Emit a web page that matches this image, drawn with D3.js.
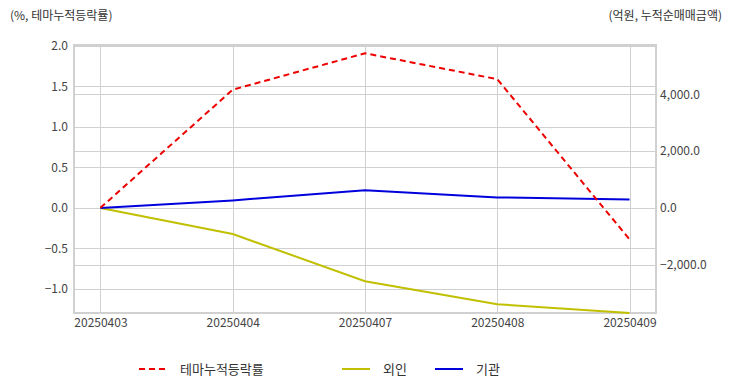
<!DOCTYPE html>
<html><head><meta charset="utf-8">
<script src="https://cdn.jsdelivr.net/npm/d3@7"></script>
<style>body{margin:0;background:#fff;}svg{display:block;font-family:"Noto Sans CJK KR","Noto Sans",sans-serif;}</style>
</head><body>
<svg id="c" width="732" height="392"></svg>
<script>
const categories = ["20250403","20250404","20250407","20250408","20250409"];
const themeRate = [0.0, 1.46, 1.91, 1.59, -0.39];
const foreign = [0, -920, -2580, -3390, -3700];
const institution = [0, 265, 625, 370, 300];
const leftTicks = [-1.0,-0.5,0.0,0.5,1.0,1.5,2.0];
const rightTicks = [-2000,0,2000,4000];
const seriesNames = ["테마누적등락률","외인","기관"];

const svg = d3.select("#c");
const L=74, R=656, T=45, B=313;
const x = d3.scalePoint().domain(categories).range([L,R]).padding(0.2);
const yL = d3.scaleLinear().domain([-1.3,2.0]).range([B,T+1]);
const yR = d3.scaleLinear().domain([-3700,5700]).range([B,T+1]);

const grid = svg.append("g").attr("stroke","#d0d0d0").attr("stroke-width",1);
leftTicks.forEach(v=>grid.append("line").attr("x1",L).attr("x2",R).attr("y1",Math.round(yL(v))+0.5).attr("y2",Math.round(yL(v))+0.5));
rightTicks.forEach(v=>grid.append("line").attr("x1",L).attr("x2",R).attr("y1",Math.round(yR(v))+0.5).attr("y2",Math.round(yR(v))+0.5));
categories.forEach(c=>grid.append("line").attr("x1",Math.round(x(c))+0.5).attr("x2",Math.round(x(c))+0.5).attr("y1",T).attr("y2",B));
svg.append("rect").attr("x",L).attr("y",T).attr("width",R-L).attr("height",B-T).attr("fill","none").attr("stroke","#d0d0d0").attr("stroke-width",2);

const tc="#444";
const lAxis = svg.append("g").attr("transform",`translate(${L},0)`).call(d3.axisLeft(yL).tickValues(leftTicks).tickFormat(d3.format(".1f")).tickSize(0).tickPadding(6));
const rAxis = svg.append("g").attr("transform",`translate(${R},0)`).call(d3.axisRight(yR).tickValues(rightTicks).tickFormat(d3.format(",.1f")).tickSize(0).tickPadding(4));
const xAxis = svg.append("g").attr("transform",`translate(0,${B})`).call(d3.axisBottom(x).tickSize(0).tickPadding(5));
[lAxis,rAxis,xAxis].forEach(a=>{a.select(".domain").remove();a.selectAll("text").attr("fill",tc).style("font-size","12px").style("font-family",'"Noto Sans CJK KR","Noto Sans",sans-serif');});

const line = (ys,data)=>d3.line().x((d,i)=>x(categories[i])).y(d=>ys(d))(data);
svg.append("path").attr("d",line(yR,foreign)).attr("fill","none").attr("stroke","#c0c000").attr("stroke-width",2);
svg.append("path").attr("d",line(yR,institution)).attr("fill","none").attr("stroke","#0000dd").attr("stroke-width",2);
svg.append("path").attr("d",line(yL,themeRate)).attr("fill","none").attr("stroke","#ee0000").attr("stroke-width",2).attr("stroke-dasharray","6,4");

svg.append("text").attr("x",10).attr("y",20).attr("fill","#333").style("font-size","12px").text("(%, 테마누적등락률)");
svg.append("text").attr("x",722).attr("y",20).attr("text-anchor","end").attr("fill","#333").style("font-size","12px").text("(억원, 누적순매매금액)");

const leg = [{n:seriesNames[0],c:"#ee0000",d:"6,4",x:139},{n:seriesNames[1],c:"#c0c000",d:null,x:342},{n:seriesNames[2],c:"#0000dd",d:null,x:435}];
leg.forEach(l=>{
  svg.append("line").attr("x1",l.x).attr("x2",l.x+28).attr("y1",369).attr("y2",369).attr("stroke",l.c).attr("stroke-width",2).attr("stroke-dasharray",l.d);
  svg.append("text").attr("x",l.x+41).attr("y",373.5).attr("fill","#333").style("font-size","13px").text(l.n);
});
</script>
</body></html>
